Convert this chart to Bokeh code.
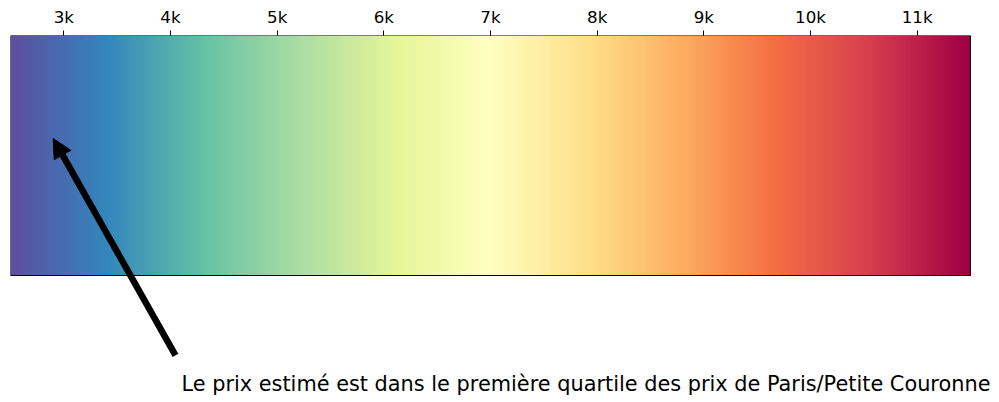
import numpy as np
from bokeh.plotting import figure
from bokeh.models import (Range1d, LinearColorMapper, FixedTicker, Arrow,
                          NormalHead)
from bokeh.palettes import interp_palette
from bokeh.core.properties import value
from bokeh.embed import file_html
from bokeh.resources import INLINE

# ---- data ----
price_low = 2500
price_high = 11500
tick_values = [3000, 4000, 5000, 6000, 7000, 8000, 9000, 10000, 11000]
tick_labels = ["3k", "4k", "5k", "6k", "7k", "8k", "9k", "10k", "11k"]
spectral_r = ["#5e4fa2", "#3288bd", "#66c2a5", "#abdda4", "#e6f598", "#ffffbf",
              "#fee08b", "#fdae61", "#f46d43", "#d53e4f", "#9e0142"]
estimated_price = 2900
annotation_text = "Le prix estimé est dans le première quartile des prix de Paris/Petite Couronne"

FONT = "DejaVu Sans"

# frame spans pixels 10..999 horizontally; colour bar occupies 10..970
px_per_unit = 960 / (price_high - price_low)
x_end = price_high + 29 / px_per_unit

p = figure(width=999, height=402, output_backend="svg", toolbar_location=None,
           x_axis_location="above",
           x_range=Range1d(price_low, x_end),
           y_range=Range1d(1 - 367 / 240, 1))
p.min_border_left = 10
p.min_border_right = 0
p.min_border_top = 35
p.min_border_bottom = 0
p.yaxis.visible = False
p.xgrid.visible = False
p.ygrid.visible = False
p.outline_line_color = None
p.background_fill_color = "white"
p.border_fill_color = "white"

# colour bar
mapper = LinearColorMapper(palette=interp_palette(spectral_r, 256),
                           low=price_low, high=price_high)
grad = np.linspace(price_low, price_high, 960)[None, :]
p.image(image=[grad], x=price_low, y=0, dw=price_high - price_low, dh=1,
        color_mapper=mapper)
p.quad(left=[price_low], right=[price_high], bottom=[0], top=[1],
       fill_color=None, line_color="black", line_width=1)

ax = p.xaxis[0]
ax.ticker = FixedTicker(ticks=tick_values)
ax.major_label_overrides = {v: l for v, l in zip(tick_values, tick_labels)}
ax.minor_tick_line_color = None
ax.major_tick_in = 0
ax.major_tick_out = 5
ax.major_label_standoff = 4
ax.major_label_text_font = FONT
ax.major_label_text_font_size = "16.7px"
ax.major_label_text_color = "black"
ax.axis_line_color = None
ax.major_tick_line_color = "black"

# arrow + text
p.add_layout(Arrow(end=NormalHead(size=19, fill_color="black", line_color="black", line_width=1),
                   x_start=4047, y_start=-0.333, x_end=estimated_price, y_end=0.571,
                   line_width=6.5, line_color="black"))
p.text(x=[4103], y=[-0.454], text=[annotation_text], text_font=value(FONT),
       text_font_size="20.85px", text_align="left", text_baseline="alphabetic",
       text_color="black")

open("out.html", "w").write(file_html(p, INLINE))
